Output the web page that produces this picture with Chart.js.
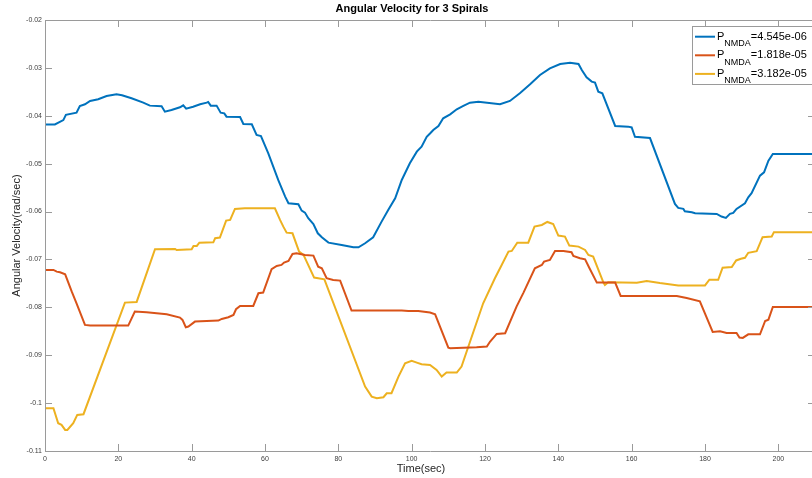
<!DOCTYPE html>
<html>
<head>
<meta charset="utf-8">
<script src="https://cdn.jsdelivr.net/npm/chart.js@4/dist/chart.umd.min.js"></script>
<style>
  html, body { margin: 0; padding: 0; overflow: hidden; background: #fff; }
  #wrap { width: 818px; height: 478px; }
</style>
</head>
<body>
<div id="wrap"><canvas id="c" width="818" height="478"></canvas></div>
<script>
// Time axis (sec) and angular velocity (rad/sec) for each spiral
const timeA = [0, 2.7, 5.0, 5.7, 8.6, 9.5, 10.9, 12.3, 14.5, 16.8, 19.5, 21.0, 23.6, 26.8, 28.6, 31.8, 32.7, 34.5, 36.8, 37.7, 38.5, 40.4, 42.3, 44.1, 44.5, 45.2, 46.8, 47.9, 48.9, 49.5, 53.2, 54.1, 56.4, 57.7, 58.9, 60.9, 63.6, 65.5, 66.4, 69.1, 70.0, 70.9, 71.8, 73.2, 74.4, 75.5, 77.3, 80.9, 84.1, 85.5, 87.3, 89.5, 91.8, 93.6, 95.5, 97.3, 99.5, 101.4, 102.7, 104.1, 105.0, 105.9, 107.3, 108.6, 110.5, 112.3, 114.1, 115.9, 118.2, 124.1, 126.8, 129.5, 132.3, 135.0, 137.7, 140.5, 143.2, 145.5, 146.4, 147.7, 149.1, 150.0, 150.9, 152.0, 155.5, 159.1, 160.0, 160.9, 165.0, 171.8, 172.7, 174.1, 174.5, 176.4, 177.3, 183.2, 184.5, 185.7, 186.8, 187.7, 188.6, 190.9, 191.8, 192.7, 195.0, 196.1, 197.3, 198.5, 210];
const velA = [-0.0418, -0.0418, -0.0409, -0.0398, -0.03935, -0.03795, -0.0376, -0.0369, -0.03656, -0.03587, -0.03552, -0.0357, -0.03635, -0.03726, -0.03788, -0.03802, -0.03914, -0.03879, -0.03823, -0.03781, -0.03851, -0.0381, -0.0376, -0.03726, -0.03712, -0.03788, -0.03788, -0.03935, -0.03949, -0.04018, -0.04025, -0.04171, -0.04178, -0.04401, -0.04422, -0.04784, -0.0534, -0.05688, -0.05827, -0.05848, -0.0598, -0.06022, -0.0614, -0.06259, -0.06454, -0.06537, -0.06649, -0.06697, -0.06746, -0.06746, -0.06662, -0.06537, -0.0621, -0.05967, -0.05723, -0.0534, -0.04992, -0.04749, -0.04644, -0.0444, -0.0437, -0.04296, -0.04213, -0.04053, -0.03969, -0.03865, -0.03795, -0.03726, -0.03705, -0.0376, -0.03691, -0.03531, -0.03343, -0.03148, -0.03009, -0.02919, -0.02891, -0.02919, -0.03044, -0.03197, -0.03287, -0.03308, -0.03496, -0.03531, -0.04213, -0.04227, -0.04243, -0.04438, -0.04465, -0.0584, -0.05924, -0.05944, -0.05993, -0.06014, -0.06035, -0.06049, -0.06104, -0.06132, -0.06049, -0.06028, -0.05944, -0.05826, -0.05701, -0.05618, -0.0525, -0.05181, -0.04938, -0.04799, -0.04799];

const timeB = [0, 2.3, 3.2, 4.1, 5.5, 7.3, 8.6, 10.9, 12.3, 22.7, 24.5, 27.7, 33.2, 36.8, 37.5, 38.4, 39.1, 40.9, 44.1, 47.3, 48.2, 50.0, 51.4, 52.1, 53.2, 56.8, 58.2, 59.5, 61.8, 63.2, 64.5, 65.2, 66.4, 67.5, 68.6, 70.9, 73.2, 74.5, 75.5, 76.8, 78.6, 80.5, 83.6, 97.3, 99.1, 101.8, 105.0, 106.4, 110.0, 110.5, 117.7, 120.5, 121.4, 123.2, 125.5, 128.6, 130.5, 133.6, 135.5, 136.1, 137.7, 139.1, 141.4, 143.6, 144.1, 145.9, 147.3, 148.5, 150.5, 155.5, 157.0, 160.5, 172.3, 175.0, 178.6, 182.1, 184.1, 185.9, 188.6, 189.4, 190.3, 191.8, 195.0, 196.4, 197.3, 198.5, 210];
const velB = [-0.07219, -0.07219, -0.07254, -0.07268, -0.0731, -0.07672, -0.07915, -0.08367, -0.08381, -0.08381, -0.08089, -0.08103, -0.08145, -0.08214, -0.08263, -0.08416, -0.08402, -0.08298, -0.08284, -0.08277, -0.08242, -0.08207, -0.08159, -0.0804, -0.07971, -0.07971, -0.07706, -0.07692, -0.07205, -0.07136, -0.07115, -0.07066, -0.07031, -0.06885, -0.06871, -0.06906, -0.0692, -0.0715, -0.07184, -0.07393, -0.07428, -0.07442, -0.08068, -0.08068, -0.08075, -0.08075, -0.0811, -0.08145, -0.08841, -0.08855, -0.08834, -0.0882, -0.08715, -0.08555, -0.08541, -0.07985, -0.07692, -0.07184, -0.07115, -0.07045, -0.0701, -0.06823, -0.06823, -0.0685, -0.06927, -0.06976, -0.06997, -0.07184, -0.07484, -0.07484, -0.07762, -0.07764, -0.07764, -0.07806, -0.07875, -0.08514, -0.085, -0.08535, -0.08535, -0.08632, -0.08639, -0.08563, -0.08563, -0.08285, -0.08257, -0.07993, -0.07993];

const timeC = [0, 2.3, 3.6, 4.5, 5.5, 6.1, 7.7, 8.8, 10.5, 21.8, 25.0, 30.0, 35.5, 35.9, 40.0, 40.5, 41.4, 42.1, 45.9, 46.4, 47.7, 49.4, 50.5, 51.8, 54.5, 62.7, 64.1, 65.0, 65.9, 67.5, 69.3, 70.5, 73.4, 76.2, 87.3, 89.1, 90.5, 92.3, 93.2, 94.5, 96.4, 98.2, 100.0, 101.4, 102.7, 105.0, 106.8, 108.2, 109.5, 112.3, 113.6, 119.5, 122.7, 124.1, 126.4, 127.3, 128.8, 131.8, 133.5, 135.5, 137.0, 138.6, 140.0, 141.8, 143.0, 145.5, 147.3, 148.2, 149.5, 152.3, 152.7, 153.6, 161.4, 164.1, 167.7, 172.7, 180.0, 181.2, 183.6, 184.8, 187.3, 188.5, 189.8, 190.9, 191.8, 194.1, 195.7, 198.2, 198.8, 210];
const velC = [-0.10107, -0.10107, -0.1042, -0.10455, -0.1056, -0.1056, -0.1042, -0.10246, -0.10232, -0.07901, -0.07887, -0.06788, -0.06781, -0.06802, -0.06788, -0.06718, -0.06718, -0.06649, -0.06642, -0.06558, -0.06544, -0.06189, -0.06175, -0.05946, -0.05932, -0.05932, -0.06175, -0.06315, -0.0644, -0.06454, -0.06837, -0.06906, -0.07379, -0.07414, -0.09655, -0.09864, -0.09898, -0.09877, -0.09794, -0.09794, -0.09446, -0.09168, -0.09119, -0.09154, -0.09189, -0.09203, -0.09307, -0.09446, -0.09363, -0.09363, -0.09237, -0.07915, -0.07393, -0.07184, -0.06837, -0.06823, -0.06649, -0.06649, -0.06315, -0.0628, -0.06217, -0.06259, -0.06502, -0.06523, -0.06711, -0.06732, -0.06802, -0.06906, -0.06941, -0.07484, -0.07533, -0.07477, -0.07486, -0.07451, -0.07493, -0.07542, -0.07542, -0.07424, -0.07424, -0.07174, -0.0716, -0.07021, -0.06986, -0.06965, -0.06861, -0.06826, -0.06535, -0.06521, -0.0643, -0.0643];

// Legend entries: parameter symbol, subscript, value text
const legendSymbol = 'P';
const legendSubscript = 'NMDA';
const legendValues = ['=4.545e-06', '=1.818e-05', '=3.182e-05'];
const seriesColors = ['#0072BD', '#D95319', '#EDB120'];

// Tick values
const xTickValues = [0, 20, 40, 60, 80, 100, 120, 140, 160, 180, 200];
const yTickValues = [-0.11, -0.1, -0.09, -0.08, -0.07, -0.06, -0.05, -0.04, -0.03, -0.02];

const chartTitle = 'Angular Velocity for 3 Spirals';
const xTitle = 'Time(sec)';
const yTitle = 'Angular Velocity(rad/sec)';

const FONT = "'Liberation Sans', Arial, Helvetica, sans-serif";
const AXIS_COLOR = '#9a9a9a';
const TEXT_COLOR = '#262626';
const TICK_TEXT_COLOR = '#404040';

function toPoints(ts, vs) { return ts.map((t, i) => ({ x: t, y: vs[i] })); }

const seriesList = [[timeA, velA], [timeB, velB], [timeC, velC]];

// Boxed axes with inward ticks, titles and a legend with subscripts
const matlabFrame = {
  id: 'matlabFrame',
  afterDraw(chart) {
    const { ctx, chartArea: a, scales } = chart;
    const xs = scales.x, ys = scales.y;
    const tick = 7;
    ctx.save();
    ctx.strokeStyle = AXIS_COLOR;
    ctx.lineWidth = 1;
    ctx.beginPath();
    ctx.rect(Math.round(a.left) + 0.5, Math.round(a.top) + 0.5,
             Math.round(a.right - a.left), Math.round(a.bottom - a.top));
    ctx.stroke();
    ctx.beginPath();
    xs.ticks.forEach(t => {
      const px = Math.round(xs.getPixelForValue(t.value)) + 0.5;
      ctx.moveTo(px, a.bottom); ctx.lineTo(px, a.bottom - tick);
      ctx.moveTo(px, a.top); ctx.lineTo(px, a.top + tick);
    });
    ys.ticks.forEach(t => {
      const py = Math.round(ys.getPixelForValue(t.value)) + 0.5;
      ctx.moveTo(a.left, py); ctx.lineTo(a.left + tick, py);
      ctx.moveTo(a.right, py); ctx.lineTo(a.right - tick, py);
    });
    ctx.stroke();

    // Titles
    ctx.fillStyle = '#000';
    ctx.textAlign = 'center';
    ctx.textBaseline = 'middle';
    ctx.font = 'bold 11px ' + FONT;
    ctx.fillText(chartTitle, 412, 9);
    ctx.fillStyle = TEXT_COLOR;
    ctx.font = '11px ' + FONT;
    ctx.fillText(xTitle, 421, 469);
    ctx.save();
    ctx.translate(17, (a.top + a.bottom) / 2);
    ctx.rotate(-Math.PI / 2);
    ctx.fillText(yTitle, 0, 0);
    ctx.restore();

    // Legend
    const lx = 692.5, ly = 26.5, lw = 130, lh = 58, gap = 18.6;
    ctx.fillStyle = '#fff';
    ctx.fillRect(lx, ly, lw, lh);
    ctx.strokeStyle = AXIS_COLOR;
    ctx.strokeRect(lx, ly, lw, lh);
    ctx.textAlign = 'left';
    ctx.textBaseline = 'alphabetic';
    chart.data.datasets.forEach((ds, i) => {
      const yc = 36.7 + i * gap;
      ctx.strokeStyle = ds.borderColor;
      ctx.lineWidth = 2;
      ctx.beginPath();
      ctx.moveTo(695, yc); ctx.lineTo(715, yc);
      ctx.stroke();
      const base = yc + 2.8;
      let x = 717;
      ctx.fillStyle = '#000';
      ctx.font = '11px ' + FONT;
      ctx.fillText(legendSymbol, x, base);
      x += ctx.measureText(legendSymbol).width;
      ctx.font = '9px ' + FONT;
      ctx.fillText(legendSubscript, x, base + 6.5);
      x += ctx.measureText(legendSubscript).width;
      ctx.font = '11px ' + FONT;
      ctx.fillText(legendValues[i], x, base);
    });
    ctx.restore();
  }
};

new Chart(document.getElementById('c'), {
  type: 'line',
  data: {
    datasets: seriesList.map((s, i) => ({
      label: legendSymbol + '_' + legendSubscript + legendValues[i],
      data: toPoints(s[0], s[1]),
      borderColor: seriesColors[i],
      backgroundColor: seriesColors[i],
      borderWidth: 2,
      pointRadius: 0,
      tension: 0,
      fill: false
    }))
  },
  options: {
    responsive: false,
    animation: false,
    devicePixelRatio: 1,
    layout: { padding: { left: 0, right: 3, top: 20, bottom: 0 } },
    plugins: { legend: { display: false }, title: { display: false }, tooltip: { enabled: false } },
    scales: {
      x: {
        type: 'linear', min: 0, max: 210,
        afterBuildTicks: s => { s.ticks = xTickValues.map(v => ({ value: v })); },
        afterFit: s => { s.height = 27; },
        ticks: { font: { family: FONT, size: 7 }, color: TICK_TEXT_COLOR, padding: 4, maxRotation: 0, autoSkip: false,
                 callback: v => String(v) },
        grid: { display: false, drawTicks: false },
        border: { display: false }
      },
      y: {
        type: 'linear', min: -0.11, max: -0.02,
        afterBuildTicks: s => { s.ticks = yTickValues.map(v => ({ value: v })); },
        afterFit: s => { s.width = 45; },
        ticks: { font: { family: FONT, size: 7 }, color: TICK_TEXT_COLOR, padding: 3, autoSkip: false,
                 callback: v => String(Number(v.toFixed(2))) },
        grid: { display: false, drawTicks: false },
        border: { display: false }
      }
    }
  },
  plugins: [matlabFrame]
});
</script>
</body>
</html>
